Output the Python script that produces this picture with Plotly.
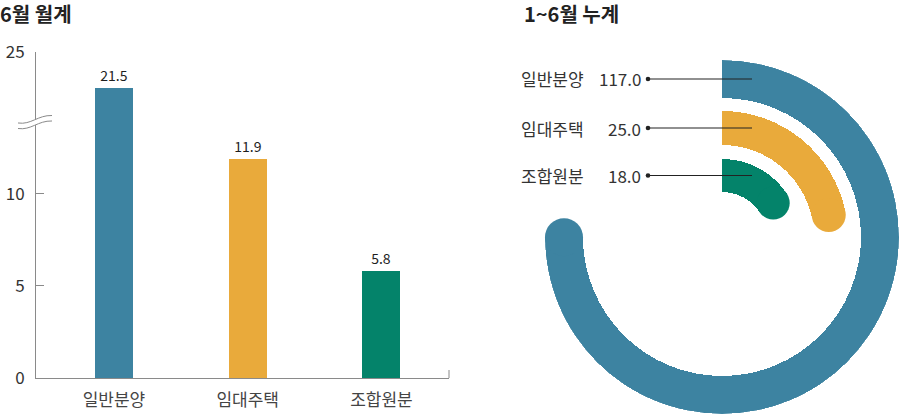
import numpy as np
import plotly.graph_objects as go

# ---------------- data ----------------
categories = ["일반분양", "임대주택", "조합원분"]
monthly_june = [21.5, 11.9, 5.8]            # 6월 월계
cumulative_jan_jun = [117.0, 25.0, 18.0]    # 1~6월 누계
tick_vals_low = [0, 5, 10]
tick_vals_high = [25]
title_left = "6월 월계"
title_right = "1~6월 누계"

colors = ["#3d83a1", "#e9aa3b", "#04836a"]
FONT = "Noto Sans CJK KR"
AXIS_GREY = "#8a8a8a"

W, H = 900, 414


def px(x):
    return x / W


def py(y):
    return (H - y) / H


# ---------------- left: bar chart with broken y axis ----------------
Y_LOW_RANGE = [0, 13.9]
Y_HIGH_RANGE = [18.14, 25]
BREAK_Y = 122
AX_L, AX_R, AX_B, AX_T = 36, 449, 378, 52

fig = go.Figure()

low_text = [f"{v:.1f}" if v < Y_LOW_RANGE[1] else "" for v in monthly_june]
high_text = [f"{v:.1f}" if v >= Y_HIGH_RANGE[0] else "" for v in monthly_june]

for yax, txt in (("y", low_text), ("y2", high_text)):
    fig.add_trace(go.Bar(
        x=categories, y=monthly_june, xaxis="x", yaxis=yax,
        marker=dict(color=colors, line=dict(width=0)),
        width=0.284, text=txt, textposition="outside", cliponaxis=False,
        textfont=dict(family=FONT, size=14, color="#1e1e1e"),
        hoverinfo="skip", showlegend=False,
    ))

yaxis_common = dict(
    showline=True, linecolor=AXIS_GREY, linewidth=1,
    ticks="inside", ticklen=8, tickcolor=AXIS_GREY, tickwidth=1,
    showgrid=False, zeroline=False, anchor="x", automargin=False,
    tickfont=dict(family=FONT, size=17, color="#333333"),
    ticklabelstandoff=7,
)

# ---------------- right: radial arcs ----------------
# broken angular scale (like the bar chart's broken y axis)
ANGLE_DOMAIN = [0, 30, 120]
ANGLE_RANGE = [0, 94, 276]
sweeps = np.interp(cumulative_jan_jun, ANGLE_DOMAIN, ANGLE_RANGE)

ring_inner = [139, 92, 45]
ring_outer = [177, 126, 78]

for i, cat in enumerate(categories):
    thick = ring_outer[i] - ring_inner[i]
    mid = (ring_outer[i] + ring_inner[i]) / 2
    fig.add_trace(go.Barpolar(
        r=[thick], base=[ring_inner[i]], theta=[sweeps[i] / 2], width=[sweeps[i]],
        marker=dict(color=colors[i], line=dict(width=0)),
        subplot="polar", hoverinfo="skip", showlegend=False,
    ))
    fig.add_trace(go.Scatterpolar(
        r=[mid], theta=[sweeps[i]], mode="markers",
        marker=dict(size=thick, color=colors[i], line=dict(width=0)),
        subplot="polar", hoverinfo="skip", showlegend=False,
    ))

CX, CY, R_MAX = 722, 237, 177

shapes = []
annotations = []

# leader lines + labels
for i, cat in enumerate(categories):
    mid = (ring_outer[i] + ring_inner[i]) / 2
    yy = CY - mid
    shapes.append(dict(type="line", xref="paper", yref="paper",
                       x0=px(648), x1=px(752), y0=py(yy), y1=py(yy),
                       line=dict(color="#222222", width=1.2)))
    rdot = 2.3
    shapes.append(dict(type="circle", xref="paper", yref="paper",
                       x0=px(648 - rdot), x1=px(648 + rdot),
                       y0=py(yy + rdot), y1=py(yy - rdot),
                       fillcolor="#222222", line=dict(width=0)))
    annotations.append(dict(text=cat, xref="paper", yref="paper",
                            x=px(519), y=py(yy), xanchor="left", yanchor="middle",
                            showarrow=False,
                            font=dict(family=FONT, size=17, color="#333333")))
    annotations.append(dict(text=f"{cumulative_jan_jun[i]:.1f}", xref="paper", yref="paper",
                            x=px(643), y=py(yy), xanchor="right", yanchor="middle",
                            showarrow=False,
                            font=dict(family=FONT, size=17, color="#333333")))

# titles
annotations.append(dict(text=f"<b>{title_left}</b>", xref="paper", yref="paper",
                        x=px(-2), y=py(13), xanchor="left", yanchor="middle",
                        showarrow=False, font=dict(family=FONT, size=20, color="#222222")))
annotations.append(dict(text=f"<b>{title_right}</b>", xref="paper", yref="paper",
                        x=px(522), y=py(13), xanchor="left", yanchor="middle",
                        showarrow=False, font=dict(family=FONT, size=20, color="#222222")))


# axis break symbol
def path_from(points_cmds):
    out = []
    for cmd, pts in points_cmds:
        coords = " ".join(f"{px(x):.5f},{py(y):.5f}" for x, y in pts)
        out.append(f"{cmd}{coords}")
    return " ".join(out)


lo_off = 5.5
fill_path = path_from([
    ("M", [(18, 123)]), ("C", [(31, 125), (38, 115), (52, 115.5)]),
    ("L", [(52, 115.5 + lo_off)]),
    ("C", [(38, 115 + lo_off), (31, 125 + lo_off), (18, 123 + lo_off)]),
]) + " Z"
shapes.append(dict(type="path", xref="paper", yref="paper", path=fill_path,
                   fillcolor="white", line=dict(width=0), layer="above"))
for off in (0, lo_off):
    p = path_from([("M", [(18, 123 + off)]),
                   ("C", [(31, 125 + off), (38, 115 + off), (52, 115.5 + off)])])
    shapes.append(dict(type="path", xref="paper", yref="paper", path=p,
                       line=dict(color=AXIS_GREY, width=1), layer="above"))

# small end tick on x axis
shapes.append(dict(type="line", xref="paper", yref="paper",
                   x0=px(AX_R), x1=px(AX_R), y0=py(AX_B), y1=py(AX_B - 8),
                   line=dict(color=AXIS_GREY, width=1)))

fig.update_layout(
    width=W, height=H,
    margin=dict(l=0, r=0, t=0, b=0, pad=0, autoexpand=False),
    paper_bgcolor="white", plot_bgcolor="white",
    font=dict(family=FONT),
    bargap=0,
    xaxis=dict(
        domain=[px(AX_L), px(AX_R)], range=[-0.583, 2.505], anchor="y",
        showline=True, linecolor=AXIS_GREY, linewidth=1, automargin=False,
        ticks="outside", ticklen=7, tickcolor="rgba(0,0,0,0)",
        showgrid=False, zeroline=False,
        tickfont=dict(family=FONT, size=17, color="#444444"),
    ),
    yaxis=dict(domain=[py(AX_B), py(BREAK_Y)], range=Y_LOW_RANGE,
               tickvals=tick_vals_low, **yaxis_common),
    yaxis2=dict(domain=[py(BREAK_Y), py(AX_T)], range=Y_HIGH_RANGE,
                tickvals=tick_vals_high, **yaxis_common),
    polar=dict(
        domain=dict(x=[px(CX - R_MAX), px(CX + R_MAX)], y=[py(CY + R_MAX), py(CY - R_MAX)]),
        bgcolor="white",
        radialaxis=dict(range=[0, R_MAX], visible=False),
        angularaxis=dict(rotation=90, direction="clockwise", visible=False),
        barmode="overlay",
    ),
    shapes=shapes,
    annotations=annotations,
)

fig.write_html("out.html", config={"displayModeBar": False},
               post_script="document.body.style.margin='0';document.body.style.overflow='hidden';")
